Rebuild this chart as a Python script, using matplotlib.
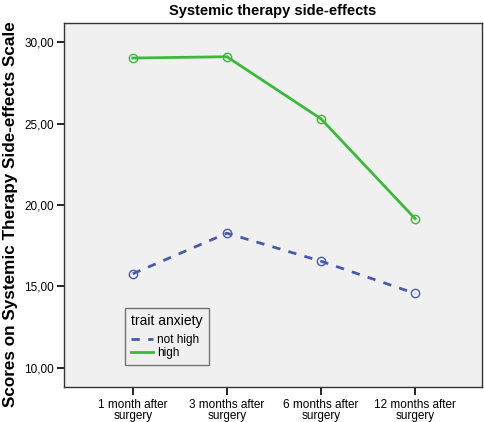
import matplotlib
matplotlib.use("Agg")
import matplotlib.pyplot as plt
from matplotlib.ticker import FuncFormatter
from matplotlib.lines import Line2D

categories = ["1 month after\nsurgery", "3 months after\nsurgery", "6 months after\nsurgery", "12 months after\nsurgery"]
not_high = [15.78, 18.27, 16.55, 14.57]
high = [29.02, 29.10, 25.29, 19.16]
yticks = [10, 15, 20, 25, 30]

plt.rcParams['font.family'] = ['Liberation Sans', 'DejaVu Sans']

fig = plt.figure(figsize=(4.84, 4.22), dpi=100)
ax = fig.add_axes([64/484, 1 - 387/422, (482-64)/484, (387-23)/422])
ax.set_facecolor('#f0f0f0')

x = list(range(len(categories)))
blue = '#4a5aa8'
green = '#3cb83c'
ax.plot(x, not_high, color=blue, linestyle=(0, (3, 3)), linewidth=2.0,
        marker='o', markersize=6, markerfacecolor='none', markeredgewidth=1.0)
ax.plot(x, high, color=green, linestyle='-', linewidth=2.0,
        marker='o', markersize=6, markerfacecolor='none', markeredgewidth=1.0)

ax.set_xlim(-0.73, 3.71)
ax.set_ylim(8.83, 31.17)
ax.set_xticks(x)
ax.set_xticklabels(categories, fontsize=8.5, linespacing=0.85)
ax.set_yticks(yticks)
ax.yaxis.set_major_formatter(FuncFormatter(lambda v, p: f"{v:.2f}".replace('.', ',')))
ax.tick_params(axis='y', labelsize=8.5, length=5, width=1.2, pad=2)
ax.tick_params(axis='x', length=6, width=1.2, pad=3)
for s in ax.spines.values():
    s.set_color('#333333')
    s.set_linewidth(1.0)

ax.set_ylabel("Scores on Systemic Therapy Side-effects Scale", fontsize=12.3, fontweight='bold')
ax.yaxis.set_label_coords(-(64-18)/418, (387-214)/364)
ax.set_title("Systemic therapy side-effects", fontsize=10.5, fontweight='bold', pad=6)

handles = [Line2D([], [], color=blue, linestyle=(0, (3, 3)), linewidth=2.0),
           Line2D([], [], color=green, linestyle='-', linewidth=2.0)]
leg = ax.legend(handles, ['not high', 'high'], title='trait anxiety', loc='upper left',
                bbox_to_anchor=((125-64)/418, (387-308)/364), borderaxespad=0,
                fontsize=8.5, title_fontsize=10, frameon=True, fancybox=False,
                handlelength=1.8, handletextpad=0.4, borderpad=0.5, labelspacing=0.1,
                edgecolor='#555555', facecolor='#f0f0f0')
leg.get_frame().set_linewidth(1.0)
leg._legend_box.align = 'left'
leg._legend_box.sep = 4
leg._legend_box.pad = 4.5

fig.savefig('out.png', dpi=100)
